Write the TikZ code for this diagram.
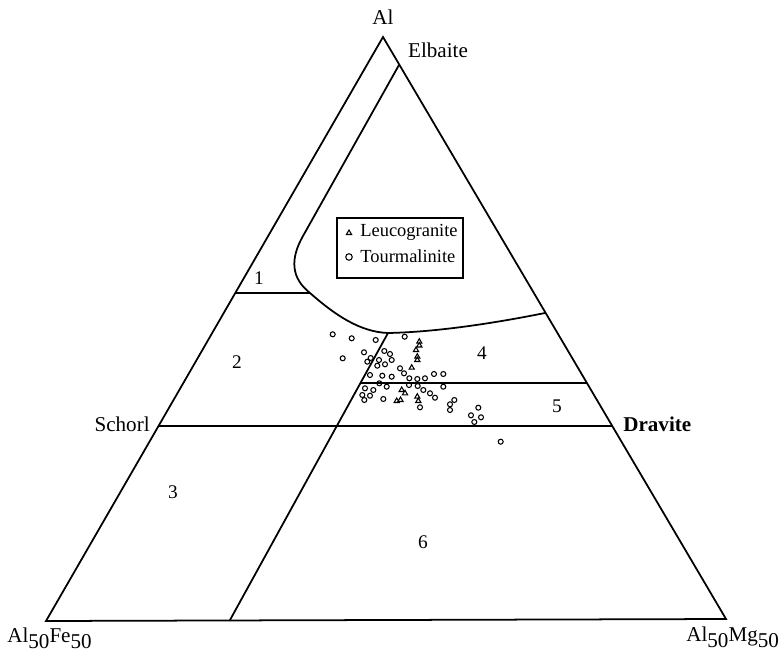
\documentclass[tikz,border=0pt]{standalone}
\usepackage{fontspec}
\setmainfont{Liberation Serif}
\usetikzlibrary{shapes.geometric}
\newcommand{\lowsub}[1]{\raisebox{-0.6ex}{#1}}
\tikzset{
  edge/.style={line width=1pt},
  vlabel/.style={font=\fontsize{12}{14}\selectfont, inner sep=0pt},
  fieldno/.style={font=\fontsize{11}{13}\selectfont, inner sep=0pt},
  tourm/.style={circle, draw, line width=0.6pt, minimum size=0.1cm, inner sep=0pt},
  leuco/.style={regular polygon, regular polygon sides=3, draw, line width=0.6pt, minimum size=0.12cm, inner sep=0pt},
  keytext/.style={font=\fontsize{10.5}{12}\selectfont, anchor=west, inner sep=0pt}
}

\begin{document}
\begin{tikzpicture}[x=0.02cm,y=-0.02cm]
\useasboundingbox (0,0) rectangle (780,658);

\coordinate (al) at (383,37);
\coordinate (fe) at (46,621);
\coordinate (mg) at (726,619);
\coordinate (elb) at (399,65);
\coordinate (bend) at (303,236);
\coordinate (one) at (310,293);
\coordinate (low) at (388,333);
\coordinate (rgt) at (545,313);
\coordinate (foot) at (230,620);

\draw[edge] (al) -- (mg) -- (fe) -- cycle;

\draw[edge] (elb) -- (bend)
    .. controls (290,259) and (291,278) .. (one)
    .. controls (335,315) and (360,332) .. (low)
    .. controls (440,332) and (500,322) .. (rgt);
\draw[edge] (low) -- (foot);
\draw[edge] (236,293) -- (one);
\draw[edge] (360.6,383) -- (586.6,383);
\draw[edge] (158.9,426) -- (611.9,426);

\node[vlabel] (altop) at (383,17) {Al};
\node[vlabel] (elbaite) at (438,50) {Elbaite};
\node[vlabel, anchor=east] (schorl) at (150,424) {Schorl};
\node[vlabel, anchor=west] (dravite) at (623,424) {\bfseries Dravite};
\node[vlabel, anchor=west] (fefe) at (7,638) {Al\lowsub{50}Fe\lowsub{50}};
\node[vlabel, anchor=west] (mgmg) at (686,637) {Al\lowsub{50}Mg\lowsub{50}};

\node[fieldno] (f1) at (259,278) {1};
\node[fieldno] (f2) at (237,362) {2};
\node[fieldno] (f3) at (173,492) {3};
\node[fieldno] (f4) at (482,353) {4};
\node[fieldno] (f5) at (557,406) {5};
\node[fieldno] (f6) at (423,542) {6};

\draw[line width=0.7pt] (337,218) rectangle (463,278);
\node[leuco] (keyleu) at (349,233) {};
\node[tourm, minimum size=0.13cm] (keytou) at (349,257) {};
\node[keytext] (keyleutext) at (360,232) {Leucogranite};
\node[keytext] (keytoutext) at (360,256) {Tourmalinite};

\foreach \x/\y [count=\i] in {332.7/334.3, 351.7/338.3, 375.7/340, 404.7/336.7,
    342.7/358.3, 364/352.3, 384.3/351, 390/354, 367.3/361.7, 370.7/358,
    379/360, 391.7/360, 377.3/365.7, 385/364.3, 400/368.3, 370/375,
    382.3/375.7, 391.7/376.7, 404/373.3, 409.3/378.3, 417.3/379, 425/378.3,
    434/374, 443.3/374, 409/385, 417.7/386, 423.3/390, 443.3/386.7,
    365/388.3, 373.3/390, 362.3/395, 370/395.7, 364.3/400, 383.3/399,
    430/393.3, 435/397.7, 420/407.3, 454.3/400, 450/404.3, 450/410,
    478.3/407.7, 471/415.3, 481/417.3, 474.3/422, 500.7/441.7,
    379.3/383.3, 386.7/386.7}
  \node[tourm] (t\i) at (\x,\y) {};

\foreach \x/\y [count=\i] in {419.3/341.7, 419.3/345.5, 416/350, 417.3/356.7,
    417.3/360, 411.7/367.7, 401.7/390, 405/393.3, 396.7/401, 400.5/400,
    417.3/396.7, 418.3/401}
  \node[leuco] (l\i) at (\x,\y) {};
\end{tikzpicture}
\end{document}
